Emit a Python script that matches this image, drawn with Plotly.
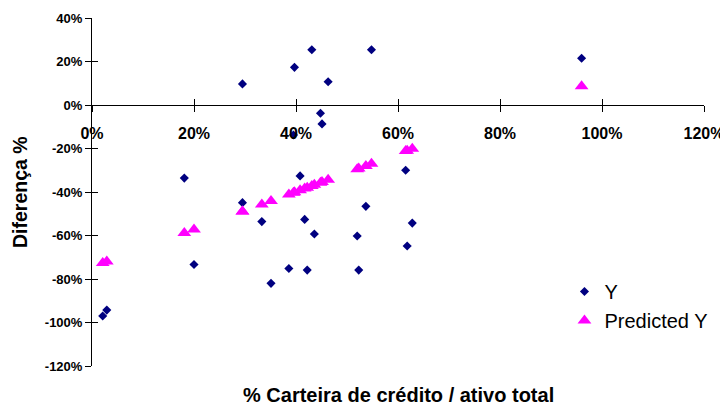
import plotly.graph_objects as go

# ---- data ----
x_vals = [0.021, 0.029, 0.181, 0.200, 0.295, 0.295, 0.333, 0.351, 0.386, 0.395,
          0.397, 0.408, 0.417, 0.422, 0.431, 0.436, 0.448, 0.451, 0.463, 0.520,
          0.523, 0.537, 0.548, 0.615, 0.618, 0.628, 0.960]
y_vals = [-0.970, -0.943, -0.336, -0.733, 0.097, -0.449, -0.536, -0.820, -0.752, -0.138,
          0.173, -0.326, -0.526, -0.759, 0.254, -0.593, -0.038, -0.087, 0.107, -0.602,
          -0.759, -0.466, 0.254, -0.300, -0.648, -0.543, 0.215]
pred_vals = [-0.727, -0.720, -0.588, -0.572, -0.490, -0.490, -0.457, -0.441, -0.411, -0.403,
             -0.401, -0.392, -0.384, -0.380, -0.372, -0.367, -0.357, -0.354, -0.344, -0.295,
             -0.292, -0.280, -0.270, -0.212, -0.210, -0.201, 0.086]

x_tickvals = [0, 0.2, 0.4, 0.6, 0.8, 1.0, 1.2]
x_ticktext = ["0%", "20%", "40%", "60%", "80%", "100%", "120%"]
y_tickvals = [0.4, 0.2, 0, -0.2, -0.4, -0.6, -0.8, -1.0, -1.2]
y_ticktext = ["40%", "20%", "0%", "-20%", "-40%", "-60%", "-80%", "-100%", "-120%"]

FONT = "Liberation Sans, Arial, sans-serif"

fig = go.Figure()
fig.add_trace(go.Scatter(
    x=x_vals, y=y_vals, mode="markers", name="Y",
    marker=dict(symbol="diamond", size=7, color="#000080", line=dict(width=0)),
))
fig.add_trace(go.Scatter(
    x=x_vals, y=pred_vals, mode="markers", name="Predicted Y",
    marker=dict(symbol="triangle-up", size=12, color="#FF00FF", line=dict(width=0)),
))
# invisible trace on a second, coincident subplot that carries the inner tick halves
fig.add_trace(go.Scatter(
    x=x_vals, y=y_vals, mode="markers", xaxis="x2", yaxis="y2",
    marker=dict(opacity=0), showlegend=False, hoverinfo="skip",
))

common = dict(showgrid=False, automargin=False,
              tickcolor="black", tickwidth=1, ticklen=6,
              linecolor="black", linewidth=1)

fig.update_layout(
    template="none",
    width=720, height=397,
    margin=dict(l=84, r=24, t=10, b=39, autoexpand=False),
    paper_bgcolor="white", plot_bgcolor="rgba(0,0,0,0)",
    font=dict(family=FONT, color="black"),
    showlegend=True,
    legend=dict(x=0.772, y=0.27, xanchor="left", yanchor="top",
                font=dict(family=FONT, size=20, color="black"),
                bgcolor="rgba(0,0,0,0)", itemwidth=30, tracegroupgap=0),
    xaxis=dict(range=[0, 1.2], domain=[0, 1], anchor="free", position=0.75, showline=False,
               zeroline=False,
               tickmode="array", tickvals=x_tickvals, ticktext=x_ticktext,
               ticks="outside", ticklabelstandoff=8,
               tickfont=dict(family=FONT, size=16, weight="bold", color="black"),
               **common),
    yaxis=dict(range=[-1.2, 0.4], domain=[0, 1], anchor="x", showline=True,
               zeroline=True, zerolinecolor="black", zerolinewidth=1,
               tickmode="array", tickvals=y_tickvals, ticktext=y_ticktext,
               ticks="outside",
               tickfont=dict(family=FONT, size=13, weight="bold", color="black"),
               **common),
    xaxis2=dict(range=[0, 1.2], domain=[0, 1], anchor="free", position=0.75, showline=False,
                zeroline=False,
                tickmode="array", tickvals=x_tickvals,
                ticks="inside", showticklabels=False, **common),
    yaxis2=dict(range=[-1.2, 0.4], domain=[0, 1], anchor="x2", showline=False,
                zeroline=False,
                tickmode="array", tickvals=y_tickvals,
                ticks="inside", showticklabels=False, **common),
    annotations=[
        dict(text="<b>% Carteira de crédito / ativo total</b>", xref="paper", yref="paper",
             x=0.501, y=-0.082, xanchor="center", yanchor="middle", showarrow=False,
             font=dict(family=FONT, size=20, color="black")),
        dict(text="<b>Diferença %</b>", xref="paper", yref="paper",
             x=-0.1176, y=0.5, xanchor="center", yanchor="middle", showarrow=False,
             textangle=-90, font=dict(family=FONT, size=19.5, color="black")),
    ],
)

fig.write_html("out.html")
